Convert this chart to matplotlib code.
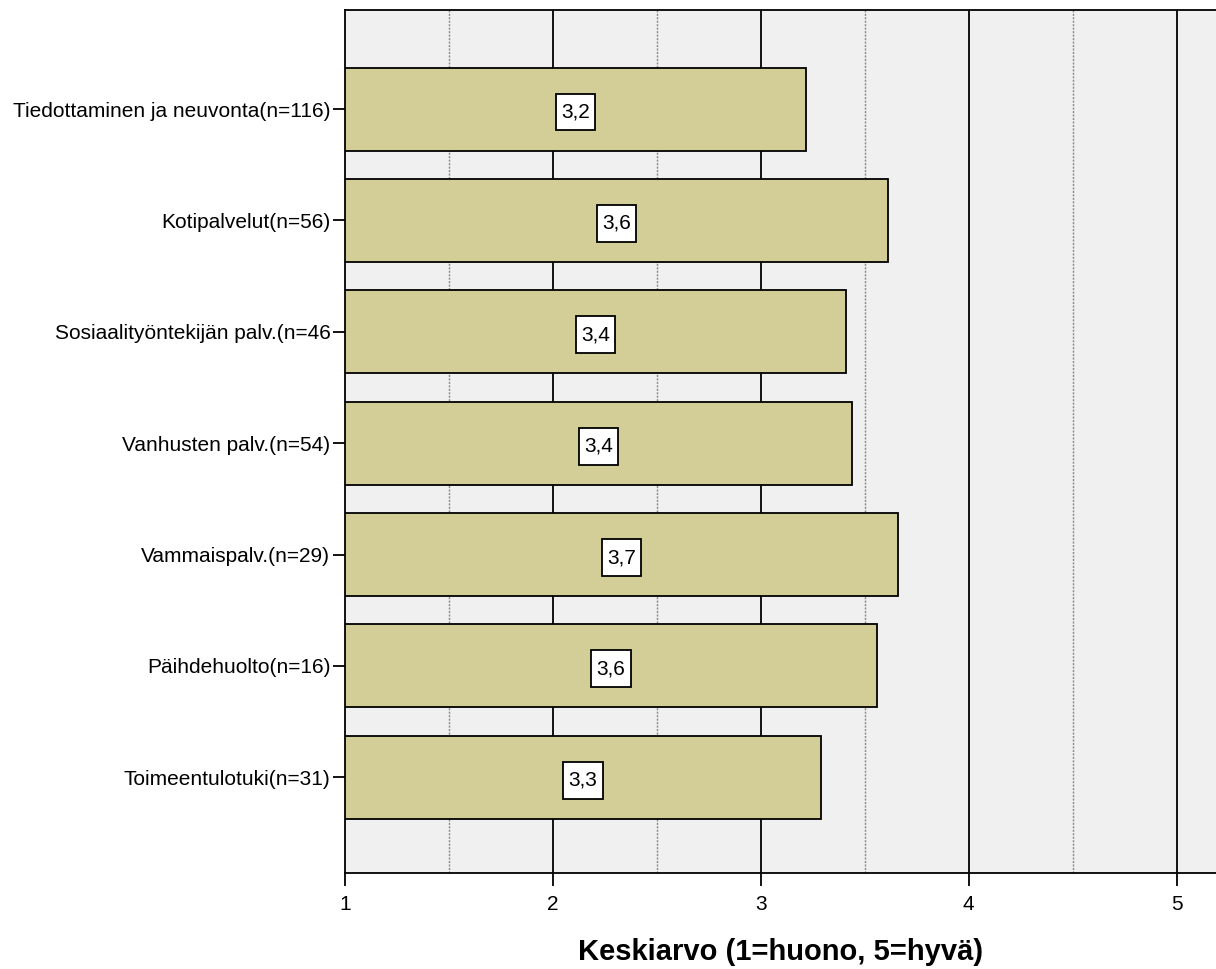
import numpy as np
import matplotlib
matplotlib.use('Agg')
from matplotlib import pyplot as plt
from matplotlib.patches import Rectangle

# palvelut ja keskiarvot
palvelut = ['Tiedottaminen ja neuvonta(n=116)', 'Kotipalvelut(n=56)',
            'Sosiaalityöntekijän palv.(n=46', 'Vanhusten palv.(n=54)',
            'Vammaispalv.(n=29)', 'Päihdehuolto(n=16)', 'Toimeentulotuki(n=31)']
keskiarvot = [3.22, 3.61, 3.41, 3.44, 3.66, 3.56, 3.29]

plt.rcParams['font.family'] = ['Liberation Sans', 'DejaVu Sans']

fig = plt.figure(figsize=(12.16, 9.69), dpi=100)
ax = fig.add_axes([0.2837, 0.0991, 0.7163, 0.8906])
ax.set_facecolor('#F0F0F0')

y = np.arange(len(palvelut))
ax.barh(y, [k - 1 for k in keskiarvot], left=1, height=0.745,
        color='#D3CE98', edgecolor='black', linewidth=1.3, zorder=3)

# arvolaatikot palkkien keskelle
bw, bh = 0.19, 0.33
for yi, k in zip(y, keskiarvot):
    xc = (1 + k) / 2
    ax.add_patch(Rectangle((xc - bw / 2, yi + 0.027 - bh / 2), bw, bh,
                           fc='white', ec='black', lw=1.3, zorder=4))
    ax.text(xc, yi + 0.027, ('%.1f' % k).replace('.', ','), ha='center', va='center',
            fontsize=15, zorder=5)

# ruudukko: kokonaiset yhtenäisenä, puolikkaat pisteviivana
for v in [2, 3, 4, 5]:
    ax.axvline(v, color='black', lw=1.3, zorder=1)
for v in [1.5, 2.5, 3.5, 4.5]:
    ax.axvline(v, color='#888888', lw=1.0, ls=(0, (1.5, 1)), zorder=1)

ax.set_xlim(1, 5.19)
ax.set_ylim(len(palvelut) - 1 + 0.86, -0.89)
ax.set_xticks([1, 2, 3, 4, 5])
ax.set_yticks(y)
ax.set_yticklabels(palvelut)
ax.tick_params(axis='both', labelsize=15, length=9, width=1.3, direction='out')
ax.tick_params(axis='x', pad=7)
ax.tick_params(axis='y', pad=1.5)
for s in ['left', 'top', 'bottom']:
    ax.spines[s].set_linewidth(1.3)
ax.spines['right'].set_visible(False)
ax.set_xlabel('Keskiarvo (1=huono, 5=hyvä)', fontsize=21, fontweight='bold', labelpad=17)

plt.savefig('out.png', dpi=100)
